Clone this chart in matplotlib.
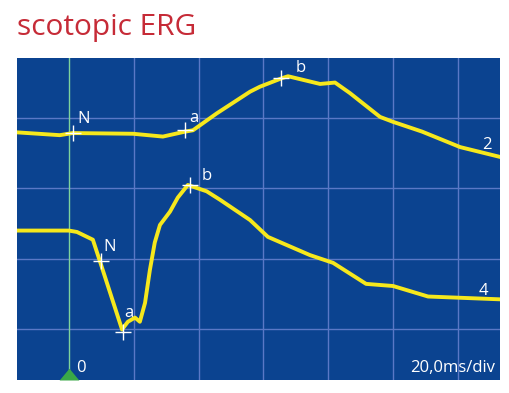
import matplotlib.pyplot as plt

# time axis in ms (20 ms per division), amplitude in divisions
t2 = [-16.0, -2.8, 1.2, 19.8, 29.0, 35.8, 38.3, 45.6, 55.9, 58.9, 65.6, 67.6,
      77.5, 82.1, 86.7, 96.0, 100.0, 109.0, 120.7, 133.0]
v2 = [2.80, 2.76, 2.79, 2.78, 2.74, 2.81, 2.83, 3.07, 3.38, 3.45, 3.57, 3.60,
      3.49, 3.51, 3.36, 3.02, 2.95, 2.81, 2.59, 2.45]

t4 = [-16.0, 0.0, 2.5, 7.4, 9.6, 16.4, 18.2, 20.4, 21.9, 23.5, 25.0, 26.5,
      28.1, 31.2, 33.6, 36.7, 42.5, 46.6, 55.9, 61.4, 74.4, 81.5, 91.7,
      100.0, 110.8, 133.0]
v4 = [1.40, 1.40, 1.38, 1.27, 0.96, -0.01, 0.10, 0.16, 0.10, 0.37, 0.84, 1.23,
      1.48, 1.67, 1.87, 2.05, 1.96, 1.84, 1.55, 1.31, 1.05, 0.94, 0.64,
      0.61, 0.46, 0.42]

# N, a, b markers
marks2_t = [1.2, 35.8, 65.4]
marks2_v = [2.79, 2.84, 3.57]
marks4_t = [9.9, 16.8, 37.3]
marks4_v = [0.96, -0.04, 2.05]
mark_names = ["N", "a", "b"]

W, H = 510, 393
fig = plt.figure(figsize=(W / 100, H / 100), dpi=100)
ax = fig.add_axes([17 / W, (H - 380) / H, (500 - 17) / W, (380 - 58) / H])
ax.set_facecolor("#0b4390")
ax.set_xlim(-16, 133)
ax.set_ylim(-0.73, 3.86)

for x in range(20, 140, 20):
    ax.axvline(x, color="#5a78c6", lw=1, zorder=1)
for y in range(0, 4):
    ax.axhline(y, color="#5a78c6", lw=1, zorder=1)
ax.axvline(0, color="#7fd39c", lw=1, zorder=1)

yellow = "#f6e81c"
ax.plot(t2, v2, color=yellow, lw=2.8, solid_joinstyle="round", zorder=3)
ax.plot(t4, v4, color=yellow, lw=2.8, solid_joinstyle="round", zorder=3)
ax.plot(marks2_t, marks2_v, "+", color="white", ms=12, mew=1, zorder=4)
ax.plot(marks4_t, marks4_v, "+", color="white", ms=12, mew=1, zorder=4)

fs = 12
txt = dict(color="white", fontsize=fs, family="Open Sans", zorder=5)
offs2 = [(1.5, 0.2), (1.3, 0.17), (4.5, 0.15)]
offs4 = [(0.8, 0.2), (0.4, 0.26), (3.8, 0.13)]
for name, t, v, o in zip(mark_names, marks2_t, marks2_v, offs2):
    ax.text(t + o[0], v + o[1], name, ha="left", va="center", **txt)
for name, t, v, o in zip(mark_names, marks4_t, marks4_v, offs4):
    ax.text(t + o[0], v + o[1], name, ha="left", va="center", **txt)

ax.text(130.5, v2[-1] + 0.17, "2", ha="right", va="center", **txt)
ax.text(129.5, v4[-1] + 0.12, "4", ha="right", va="center", **txt)
ax.text(2.2, -0.56, "0", ha="left", va="center", **txt)
ax.text(131.5, -0.56, "20,0ms/div", ha="right", va="center", **txt)
# green start marker sitting on the bottom edge
ax.plot([0], [-0.73], marker=[(-1, 0), (1, 0), (0, 1.2)], color="#3aa847",
        ms=17, mew=0, clip_on=False, zorder=6)

for s in ax.spines.values():
    s.set_visible(False)
ax.set_xticks([])
ax.set_yticks([])

fig.text(17 / W, 1 - 27 / H, "scotopic ERG", color="#c62b37", fontsize=21.5,
         family="Open Sans", ha="left", va="center")

fig.savefig("out.png", dpi=100)
